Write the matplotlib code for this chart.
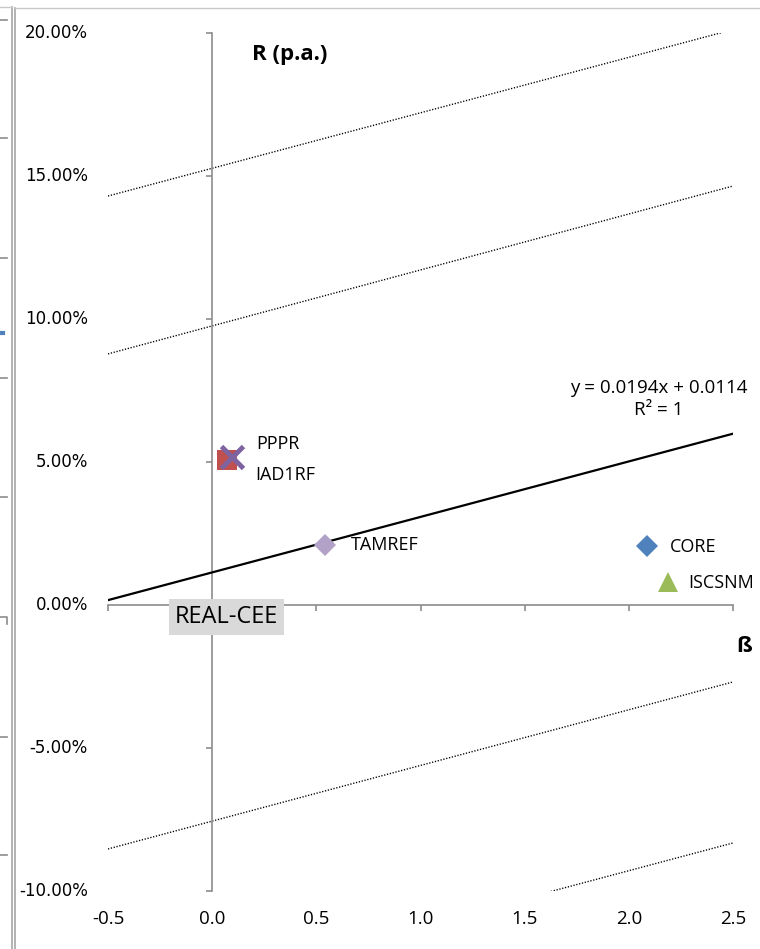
import matplotlib
matplotlib.use("Agg")
import matplotlib.pyplot as plt
from matplotlib.lines import Line2D

# ---- data ----
names = ["PPPR", "IAD1RF", "TAMREF", "CORE", "ISCSNM"]
beta = [0.096, 0.072, 0.543, 2.087, 2.190]
ret = [0.0518, 0.0508, 0.0210, 0.0206, 0.0080]
markers = ["x", "s", "D", "D", "^"]
colors = ["#7e63a0", "#c0504d", "#b3a2c7", "#4f81bd", "#9bbb59"]

trend_slope = 0.0194
trend_icpt = 0.0114
trend_x = [-0.5, 2.5]

band_x = [-0.5, 2.5]
band_y = [
    [0.1430, 0.2012],
    [0.0878, 0.1465],
    [-0.0853, -0.0269],
    [-0.1414, -0.0832],
]

xticks = [-0.5, 0.0, 0.5, 1.0, 1.5, 2.0, 2.5]
yticks = [-0.10, -0.05, 0.0, 0.05, 0.10, 0.15, 0.20]

W, H = 760, 949
fig = plt.figure(figsize=(W / 100, H / 100), dpi=100)
L, R, T, B = 108, 733, 33, 891
ax = fig.add_axes([L / W, 1 - B / H, (R - L) / W, (B - T) / H])
ax.set_xlim(-0.5, 2.5)
ax.set_ylim(-0.10, 0.20)

gray = "#8c8c8c"
for s in ["top", "right"]:
    ax.spines[s].set_visible(False)
ax.spines["left"].set_position(("data", 0))
ax.spines["bottom"].set_position(("data", 0))
for s in ["left", "bottom"]:
    ax.spines[s].set_color(gray)
    ax.spines[s].set_linewidth(1.2)
ax.set_xticks(xticks)
ax.set_yticks(yticks)
ax.tick_params(axis="both", direction="out", length=4.5, width=1.2, color=gray,
               labelleft=False, labelbottom=False)

# tick labels at low positions
for v in yticks:
    ax.text(-0.032, v, f"{v*100:.2f}%", transform=ax.get_yaxis_transform(),
            ha="right", va="center", fontsize=12, family="DejaVu Sans", color="black")
for v in xticks:
    ax.text(v, -0.0325, f"{v:.1f}", transform=ax.get_xaxis_transform(),
            ha="center", va="center", fontsize=13.5, family="Open Sans", color="black")

# dotted band lines
for ys in band_y:
    ax.plot(band_x, ys, color="black", lw=1.0, ls=(0, (0.9, 1.2)), zorder=2)

# trend line
ty = [trend_slope * x + trend_icpt for x in trend_x]
ax.plot(trend_x, ty, color="black", lw=1.6, zorder=3)

# points
sizes = [16, 15, 11, 11, 15]
order = [1, 0, 2, 3, 4]
for i in order:
    if markers[i] == "x":
        ax.plot(beta[i], ret[i], marker="x", ms=sizes[i], mew=3.5, color=colors[i],
                ls="none", zorder=5)
    else:
        ax.plot(beta[i], ret[i], marker=markers[i], ms=sizes[i], mew=0,
                color=colors[i], ls="none", zorder=4)

# labels
fnt = dict(fontsize=13, family="Open Sans", color="black")
ax.text(0.21, 0.0563, "PPPR", ha="left", va="center", **fnt)
ax.text(0.205, 0.0455, "IAD1RF", ha="left", va="center", **fnt)
ax.text(0.665, 0.0210, "TAMREF", ha="left", va="center", **fnt)
ax.text(2.195, 0.0203, "CORE", ha="left", va="center", **fnt)
ax.text(2.285, 0.0078, "ISCSNM", ha="left", va="center", **fnt)

ax.text(2.144, 0.0759, "y = 0.0194x + 0.0114", ha="center", va="center", fontsize=13.5,
        family="Open Sans")
ax.text(2.144, 0.0682, "R² = 1", ha="center", va="center", fontsize=13.5, family="Open Sans")

ax.text(0.067, -0.0041, "REAL-CEE", ha="center", va="center", fontsize=17,
        family="Open Sans",
        bbox=dict(boxstyle="square,pad=0.25", facecolor="#d9d9d9", edgecolor="none"),
        zorder=6)

ax.text(0.37, 0.1925, "R (p.a.)", ha="center", va="center", fontsize=16,
        fontweight="bold", family="Open Sans")
ax.text(2.555, -0.0145, "ß", ha="center", va="center", fontsize=16,
        fontweight="bold", family="Open Sans", clip_on=False)

# left sliver of neighbouring chart / frame borders
def fx(x):
    return x / W

def fy(y):
    return 1 - y / H

fig.add_artist(Line2D([fx(11.5), fx(11.5)], [fy(7), fy(949)], color="#a6a6a6", lw=1.2))
fig.add_artist(Line2D([fx(15), fx(15)], [fy(8), fy(949)], color="#a6a6a6", lw=1.2))
fig.add_artist(Line2D([fx(15), fx(760)], [fy(8), fy(8)], color="#c8c8c8", lw=1.0))
fig.add_artist(Line2D([fx(0), fx(11.5)], [fy(7), fy(7)], color="#c8c8c8", lw=1.0))
for yy in [20, 138, 258, 378, 497, 737, 855]:
    fig.add_artist(Line2D([fx(0), fx(7)], [fy(yy), fy(yy)], color="#8c8c8c", lw=1.2))
fig.add_artist(Line2D([fx(0), fx(7), fx(7)], [fy(617), fy(617), fy(624)], color="#8c8c8c", lw=1.2))
fig.add_artist(Line2D([fx(0), fx(3)], [fy(333), fy(333)], color="#4f81bd", lw=3))

fig.savefig("out.png", dpi=100)
